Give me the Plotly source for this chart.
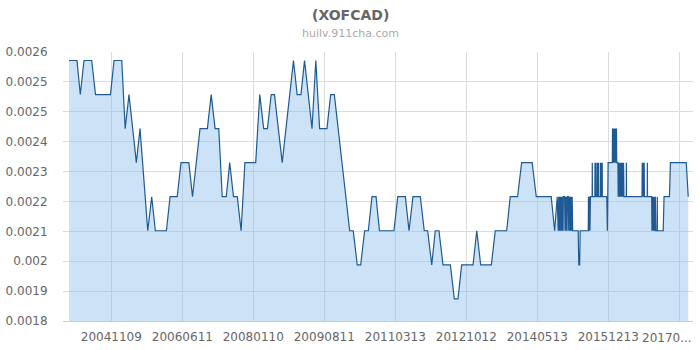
import plotly.graph_objects as go

# ---------------- data ----------------
title_text = "(XOFCAD)"
subtitle_text = "huilv.911cha.com"

dates_a = [
    "2003-11-30", "2004-02-03", "2004-03-01", "2004-03-31", "2004-06-02", "2004-07-03", "2004-11-02", "2004-12-01",
    "2005-02-02", "2005-03-02", "2005-04-02", "2005-06-01", "2005-07-01", "2005-09-02", "2005-10-04", "2005-11-03",
    "2006-02-01", "2006-03-03", "2006-04-30", "2006-05-31", "2006-08-03", "2006-09-02", "2006-11-02", "2007-01-01",
    "2007-02-01", "2007-03-05", "2007-04-04", "2007-05-02", "2007-06-04", "2007-07-02", "2007-08-02", "2007-09-02",
    "2007-10-03", "2007-11-03", "2008-01-30", "2008-03-03", "2008-04-04", "2008-05-05", "2008-06-04", "2008-07-01",
    "2008-09-02", "2008-12-03", "2009-01-02", "2009-02-02", "2009-03-03", "2009-05-03", "2009-06-03", "2009-07-04",
    "2009-09-02", "2009-10-02", "2009-11-01", "2010-03-06", "2010-04-04", "2010-05-07", "2010-06-04", "2010-07-06",
    "2010-08-05", "2010-09-04", "2010-10-07", "2010-11-04", "2011-03-02", "2011-04-02", "2011-06-03", "2011-07-03",
    "2011-08-04", "2011-10-03", "2011-11-04", "2011-12-02", "2012-01-04", "2012-02-02", "2012-03-03", "2012-04-05",
    "2012-06-04", "2012-07-06", "2012-08-05", "2012-09-04", "2012-12-06", "2013-01-05", "2013-02-06", "2013-05-04",
    "2013-06-05", "2013-09-06", "2013-10-05", "2013-12-04", "2014-01-06", "2014-04-02", "2014-05-05", "2014-09-04",
]
rates_a = [
    0.0026, 0.0026, 0.0025, 0.0026, 0.0026, 0.0025, 0.0025, 0.0026,
    0.0026, 0.0024, 0.0025, 0.0023, 0.0024, 0.0021, 0.0022, 0.0021,
    0.0021, 0.0022, 0.0022, 0.0023, 0.0023, 0.0022, 0.0024, 0.0024,
    0.0025, 0.0024, 0.0024, 0.0022, 0.0022, 0.0023, 0.0022, 0.0022,
    0.0021, 0.0023, 0.0023, 0.0025, 0.0024, 0.0024, 0.0025, 0.0025,
    0.0023, 0.0026, 0.0025, 0.0025, 0.0026, 0.0024, 0.0026, 0.0024,
    0.0024, 0.0025, 0.0025, 0.0021, 0.0021, 0.0020, 0.0020, 0.0021,
    0.0021, 0.0022, 0.0022, 0.0021, 0.0021, 0.0022, 0.0022, 0.0021,
    0.0022, 0.0022, 0.0021, 0.0021, 0.0020, 0.0021, 0.0021, 0.0020,
    0.0020, 0.0019, 0.0019, 0.0020, 0.0020, 0.0021, 0.0020, 0.0020,
    0.0021, 0.0021, 0.0022, 0.0022, 0.0023, 0.0023, 0.0022, 0.0022,
]

dates_b = [
    "2014-10-02", "2014-10-23",
    "2014-10-31", "2014-11-04", "2014-11-08", "2014-11-12", "2014-11-16", "2014-11-20",
    "2014-11-24", "2014-11-28", "2014-12-02", "2014-12-06", "2014-12-10", "2014-12-12",
    "2014-12-22",
    "2014-12-26", "2014-12-30", "2015-01-03", "2015-01-07", "2015-01-11", "2015-01-14",
    "2015-01-21",
    "2015-01-25", "2015-01-29", "2015-02-02", "2015-02-06", "2015-02-10", "2015-02-14",
    "2015-02-18", "2015-02-22", "2015-02-26",
    "2015-04-12", "2015-04-17", "2015-04-24", "2015-04-28", "2015-07-03",
    "2015-07-05", "2015-07-09", "2015-07-13", "2015-07-17", "2015-07-21",
]
rates_b = [
    0.0021, 0.0022,
    0.0021, 0.0022, 0.0021, 0.0022, 0.0021, 0.0022,
    0.0021, 0.0022, 0.0021, 0.0022, 0.0021, 0.0022,
    0.0022,
    0.0021, 0.0022, 0.0021, 0.0022, 0.0021, 0.0022,
    0.0022,
    0.0021, 0.0022, 0.0021, 0.0022, 0.0021, 0.0022,
    0.0021, 0.0022, 0.0021,
    0.0021, 0.0020, 0.0020, 0.0021, 0.0021,
    0.0022, 0.0021, 0.0022, 0.0021, 0.0022,
]

dates_c = [
    "2015-08-04", "2015-08-05", "2015-08-06",
    "2015-08-26", "2015-08-27", "2015-08-28",
    "2015-09-03", "2015-09-04", "2015-09-05",
    "2015-09-15", "2015-09-16", "2015-09-17",
    "2015-09-23", "2015-09-24", "2015-09-25",
    "2015-10-09", "2015-10-10", "2015-10-11",
    "2015-10-17", "2015-10-18", "2015-10-19",
    "2015-10-24", "2015-10-25", "2015-10-26",
    "2015-12-01", "2015-12-04", "2015-12-06", "2015-12-12",
    "2016-01-15",
    "2016-01-17", "2016-01-19", "2016-01-21", "2016-01-23", "2016-01-25", "2016-01-27",
    "2016-01-29", "2016-01-31", "2016-02-02", "2016-02-04", "2016-02-06", "2016-02-08",
    "2016-02-10", "2016-02-12", "2016-02-14", "2016-02-16", "2016-02-18", "2016-02-20",
    "2016-03-01",
    "2016-03-03", "2016-03-07", "2016-03-11", "2016-03-15", "2016-03-19", "2016-03-23",
    "2016-03-27", "2016-03-31", "2016-04-04", "2016-04-08", "2016-04-12", "2016-04-16",
    "2016-04-19",
    "2016-05-08", "2016-05-09", "2016-05-10",
]
rates_c = [
    0.0022, 0.0023, 0.0022,
    0.0022, 0.0023, 0.0022,
    0.0022, 0.0023, 0.0022,
    0.0022, 0.0023, 0.0022,
    0.0022, 0.0023, 0.0022,
    0.0022, 0.0023, 0.0022,
    0.0022, 0.0023, 0.0022,
    0.0022, 0.0023, 0.0022,
    0.0022, 0.0021, 0.0021, 0.0023,
    0.0023,
    0.0024, 0.0023, 0.0024, 0.0023, 0.0024, 0.0023,
    0.0024, 0.0023, 0.0024, 0.0023, 0.0024, 0.0023,
    0.0024, 0.0023, 0.0024, 0.0023, 0.0024, 0.0023,
    0.0023,
    0.0022, 0.0023, 0.0022, 0.0023, 0.0022, 0.0023,
    0.0022, 0.0023, 0.0022, 0.0023, 0.0022, 0.0023,
    0.0022,
    0.0022, 0.0023, 0.0022,
]

dates_d = [
    "2016-09-13", "2016-09-15", "2016-09-19", "2016-09-23", "2016-09-27", "2016-10-01", "2016-10-03",
    "2016-10-26", "2016-10-27", "2016-10-28",
    "2016-12-01", "2016-12-03", "2016-12-07", "2016-12-11", "2016-12-15", "2016-12-19",
    "2016-12-23", "2016-12-27", "2016-12-31", "2017-01-04",
    "2017-01-15", "2017-01-16", "2017-01-17",
    "2017-03-05", "2017-03-12", "2017-04-25", "2017-05-03", "2017-09-09", "2017-09-20", "2017-09-25",
]
rates_d = [
    0.0022, 0.0023, 0.0022, 0.0023, 0.0022, 0.0023, 0.0022,
    0.0022, 0.0023, 0.0022,
    0.0022, 0.0021, 0.0022, 0.0021, 0.0022, 0.0021,
    0.0022, 0.0021, 0.0022, 0.0021,
    0.0021, 0.0022, 0.0021,
    0.0021, 0.0022, 0.0022, 0.0023, 0.0023, 0.0022, 0.0022,
]

dates = dates_a + dates_b + dates_c + dates_d
rates = rates_a + rates_b + rates_c + rates_d
assert len(dates) == len(rates)

x_tick_dates = ["2004-11-09", "2006-06-11", "2008-01-10", "2009-08-11", "2011-03-13",
                "2012-10-12", "2014-05-13", "2015-12-13", "2017-07-14"]
x_tick_labels = ["20041109", "20060611", "20080110", "20090811", "20110313",
                 "20121012", "20140513", "20151213", "20170..."]
y_tick_labels = ["0.0018", "0.0019", "0.002", "0.0021", "0.0022",
                 "0.0023", "0.0024", "0.0025", "0.0025", "0.0026"]

# ---------------- figure ----------------
W, H = 700, 350
ML, MR, MT, MB = 63, 7, 52, 29
plot_w, plot_h = W - ML - MR, H - MT - MB

y_min, y_max = 0.001835, 0.002625
n = len(y_tick_labels)
y_tick_vals = [y_min + (y_max - y_min) * i / (n - 1) for i in range(n)]

fig = go.Figure()
fig.add_trace(go.Scatter(
    x=dates, y=rates, mode="lines",
    line=dict(color="#1f5a94", width=1.2),
    fill="tozeroy", fillcolor="rgba(130,185,235,0.42)",
    hoverinfo="x+y",
))

font_main = "DejaVu Sans, sans-serif"
center_x = (W / 2 - ML) / plot_w

# the last label is cut short and shifted left in the reference; draw it as an annotation
last_label_x = (667 - ML) / plot_w
fig.update_layout(
    width=W, height=H,
    margin=dict(l=ML, r=MR, t=MT, b=MB),
    paper_bgcolor="white", plot_bgcolor="white",
    showlegend=False,
    font=dict(family=font_main, size=12, color="#666"),
    annotations=[
        dict(text="<b>" + title_text + "</b>", xref="paper", yref="paper",
             x=center_x, y=1 + (MT - 15) / plot_h, xanchor="center", yanchor="middle", showarrow=False,
             font=dict(family=font_main, size=14, color="#666")),
        dict(text=subtitle_text, xref="paper", yref="paper",
             x=center_x, y=1 + (MT - 33) / plot_h, xanchor="center", yanchor="middle", showarrow=False,
             font=dict(family=font_main, size=11, color="#aaa")),
        dict(text=x_tick_labels[-1], xref="paper", yref="paper",
             x=last_label_x, y=-(337.5 - (H - MB)) / plot_h, xanchor="center", yanchor="middle",
             showarrow=False, font=dict(family=font_main, size=12, color="#666")),
    ],
)
fig.update_xaxes(
    type="date", range=["2003-10-12", "2017-11-03"],
    tickmode="array", tickvals=x_tick_dates, ticktext=x_tick_labels[:-1] + [""],
    showgrid=True, gridcolor="#dcdcdc", gridwidth=1,
    showline=True, linecolor="#cccccc", linewidth=1,
    ticks="outside", ticklen=5, tickcolor="rgba(0,0,0,0)",
    tickfont=dict(family=font_main, size=12, color="#666"),
    zeroline=False,
)
fig.update_yaxes(
    range=[y_min, y_max],
    tickmode="array", tickvals=y_tick_vals, ticktext=y_tick_labels,
    showgrid=True, gridcolor="#dcdcdc", gridwidth=1,
    showline=False, zeroline=False,
    ticks="outside", ticklen=12, tickcolor="rgba(0,0,0,0)",
    tickfont=dict(family=font_main, size=12, color="#666"),
)

fig.write_html("out.html")
